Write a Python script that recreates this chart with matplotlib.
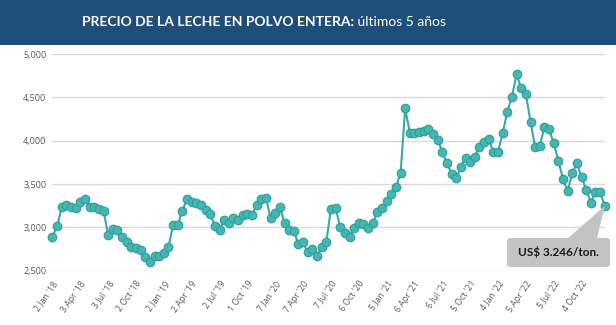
import numpy as np
import matplotlib
matplotlib.use("Agg")
import matplotlib.pyplot as plt
from matplotlib.patches import Rectangle, FancyBboxPatch, Polygon

# datos: precio GDT leche en polvo entera (US$/ton), subastas quincenales
precios = [
    2893, 3016, 3232, 3255, 3240, 3225, 3290, 3325, 3240, 3240,
    3210, 3193, 2912, 2982, 2970, 2893, 2828, 2777, 2759, 2739,
    2662, 2604, 2670, 2670, 2708, 2777, 3028, 3028, 3193, 3328,
    3297, 3278, 3262, 3201, 3155, 3016, 2975, 3080, 3047, 3112,
    3086, 3143, 3155, 3143, 3259, 3330, 3343, 3105, 3163, 3240,
    3047, 2970, 2958, 2808, 2828, 2712, 2747, 2673, 2770, 2835,
    3213, 3221, 3008, 2939, 2893, 2995, 3050, 3043, 2990, 3047,
    3182, 3221, 3309, 3390, 3470, 3625, 4376, 4090, 4094, 4105,
    4117, 4133, 4075, 4010, 3874, 3740, 3617, 3567, 3701, 3798,
    3760, 3817, 3932, 3990, 4018, 3874, 3874, 4087, 4336, 4510,
    4768, 4607, 4541, 4221, 3925, 3940, 4163, 4133, 3971, 3771,
    3556, 3424, 3625, 3740, 3579, 3432, 3285, 3413, 3413, 3246,
]
etiquetas_x = [
    "2 Jan '18", "3 Apr '18", "3 Jul '18", "2 Oct '18", "2 Jan '19",
    "2 Apr '19", "2 Jul '19", "1 Oct '19", "7 Jan '20", "7 Apr '20",
    "7 Jul '20", "6 Oct '20", "5 Jan '21", "6 Apr '21", "6 Jul '21",
    "5 Oct '21", "4 Jan '22", "5 Apr '22", "5 Jul '22", "4 Oct '22",
]
y_ticks = [2500, 3000, 3500, 4000, 4500, 5000]
titulo_bold = "PRECIO DE LA LECHE EN POLVO ENTERA:"
titulo_normal = " últimos 5 años"
etiqueta_final = "US$ 3.246/ton."

W, H = 616, 325
fig = plt.figure(figsize=(W / 100, H / 100), dpi=100)

# banda del titulo
fig.patches.append(Rectangle((0, 1 - 45 / H), 1, 45 / H, transform=fig.transFigure,
                             facecolor="#1F4E79", edgecolor="none", zorder=0))

ax = fig.add_axes([52 / W, (H - 270.7) / H, (605 - 52) / W, (270.7 - 54.2) / H])
x = np.arange(len(precios))
ax.plot(x, precios, color="#38A9A4", linewidth=1.5, marker="o", markersize=6.2,
        markerfacecolor="#45B6B1", markeredgecolor="#2E9E99", markeredgewidth=0.8,
        clip_on=False, zorder=3)

ax.set_xlim(-0.1, len(precios) - 0.95)
ax.set_ylim(2500, 5000)
ax.set_yticks(y_ticks)
ax.set_yticklabels([f"{v:,}" for v in y_ticks], fontsize=6.5, color="#595959",
                   family="Open Sans")
ax.set_xticks(np.arange(0, len(precios), 6)[:len(etiquetas_x)])
ax.set_xticklabels(etiquetas_x, rotation=55, ha="right", rotation_mode="anchor",
                   fontsize=6.3, color="#595959", family="Open Sans")
ax.tick_params(axis="both", length=0, pad=4)
ax.tick_params(axis="x", pad=6)
ax.grid(axis="y", color="#D9D9D9", linewidth=1)
ax.set_axisbelow(True)
for s in ax.spines.values():
    s.set_visible(False)

# titulo centrado en dos partes
fig.canvas.draw()
r = fig.canvas.get_renderer()
ty = 1 - 22 / H
t1 = fig.text(0, ty, titulo_bold, color="white", fontsize=10, fontweight="bold",
              family="Lato", va="center", ha="left")
t2 = fig.text(0, ty, titulo_normal, color="white", fontsize=10,
              family="Lato", va="center", ha="left")
w1 = t1.get_window_extent(r).width
w2 = t2.get_window_extent(r).width
x0 = 264 - (w1 + w2) / 2
t1.set_x(x0 / W)
t2.set_x((x0 + w1) / W)

# recuadro del ultimo valor
tip = ax.transData.transform((x[-1], precios[-1]))
gris = "#C3C3C3"
fig.patches.append(Polygon([(568 / W, (H - 238) / H), (597 / W, (H - 238) / H),
                            (tip[0] / W, tip[1] / H)], closed=True,
                           transform=fig.transFigure, facecolor=gris,
                           edgecolor="none", zorder=1))
fig.patches.append(FancyBboxPatch((507 / W, (H - 267) / H), 103 / W, 29 / H,
                                  boxstyle="round,pad=0,rounding_size=0.008",
                                  transform=fig.transFigure, facecolor=gris,
                                  edgecolor="none", zorder=1))
fig.text(558.5 / W, (H - 252) / H, etiqueta_final, fontsize=8.5, fontweight="bold",
         family="Lato", color="#1A1A1A", ha="center", va="center")

fig.savefig("out.png", dpi=100)
